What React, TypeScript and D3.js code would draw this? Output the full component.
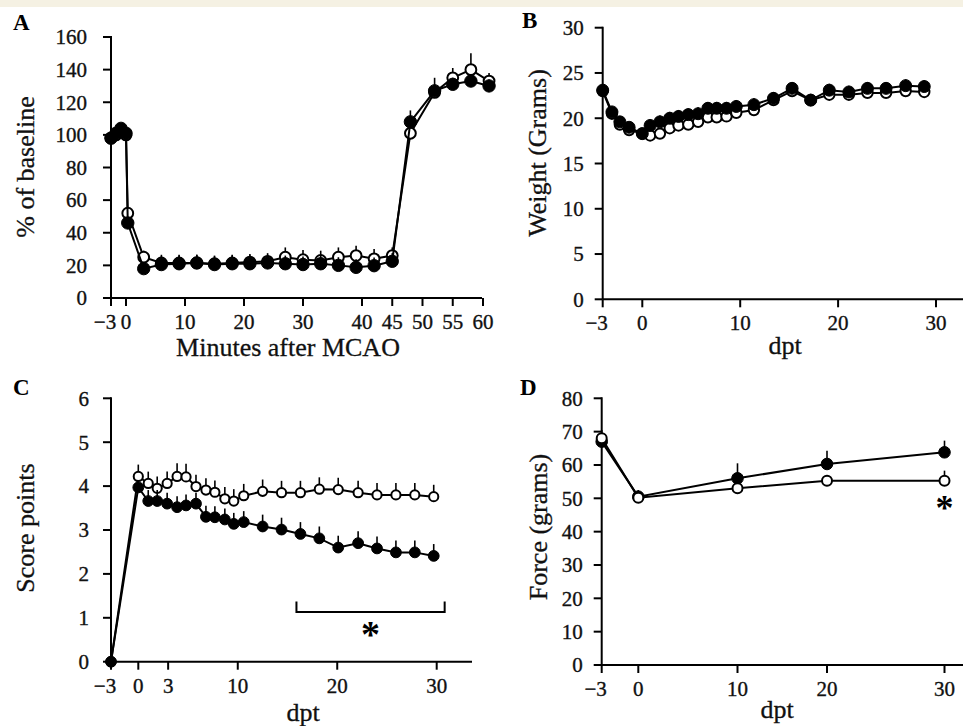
import * as d3 from "d3";

const FONT = "'Liberation Serif', 'Times New Roman', Times, serif";

// ---- Panel A: blood flow, % of baseline, minutes after MCAO
const minutesA = [-3, -2, -1, 0, 0.3, 3, 6, 9, 12, 15, 18, 21, 24, 27, 30, 33, 36, 39, 42, 45, 48, 52, 55, 58, 61];
const filledA = [98, 101, 104, 101, 46, 18, 20.5, 21, 21.5, 20.5, 21, 21, 21.5, 21, 20.5, 21, 20, 18.8, 19.8, 22.5, 108, 127, 131, 133, 130];
const openA = [98, 100, 103, 100, 52, 25, 21.5, 21.5, 21.5, 21, 21.5, 22, 22.5, 25, 23.5, 23, 25, 26, 24, 26, 101, 126, 135, 140, 133];
const errFilledA = [2, 2, 3, 2, 3, 4, 5, 5, 5, 5, 5, 5, 5, 5, 5, 5, 5, 5, 5, 5, 7, 8, 4, 4, 4];
const errOpenA = [2, 2, 2, 2, 3, 4, 5, 5, 5, 5, 5, 5, 5, 6, 6, 6, 6, 6, 6, 5, 4, 5, 6, 10, 5];
const xTicksA = [-3, 0, 10, 20, 30, 40, 45, 50, 55, 60];
const yTicksA = [0, 20, 40, 60, 80, 100, 120, 140, 160];

// ---- Panel B: weight (grams)
const dptB = [-3, -2.3, -1.7, -1, 0, 0.8, 1.8, 2.8, 3.7, 4.7, 5.7, 6.7, 7.6, 8.6, 9.6, 11.4, 13.4, 15.3, 17.2, 19.1, 21.1, 23, 24.9, 26.9, 28.8];
const filledB = [23.1, 20.7, 19.6, 19.0, 18.3, 19.2, 19.6, 20.0, 20.2, 20.4, 20.5, 21.1, 21.1, 21.1, 21.3, 21.5, 22.2, 23.3, 22.0, 23.1, 22.9, 23.3, 23.3, 23.6, 23.5];
const openB = [23.0, 20.5, 19.3, 18.7, 18.3, 18.1, 18.3, 18.9, 19.2, 19.3, 19.6, 20.1, 20.1, 20.2, 20.6, 20.9, 22.0, 23.0, 22.0, 22.6, 22.6, 22.8, 22.8, 23.0, 22.9];
const errFilledB = [0.5, 0.6, 0.6, 0.6, 0.6, 0.7, 0.7, 0.7, 0.7, 0.7, 0.7, 0.7, 0.7, 0.7, 0.7, 0.7, 0.7, 0.7, 0.7, 0.7, 0.7, 0.7, 0.7, 0.7, 0.7];
const errOpenB = [0.4, 0.4, 0.4, 0.4, 0.4, 0.4, 0.4, 0.4, 0.4, 0.4, 0.4, 0.4, 0.4, 0.4, 0.4, 0.4, 0.4, 0.4, 0.4, 0.4, 0.4, 0.4, 0.4, 0.4, 0.4];
const xTicksB = [-3, 0, 10, 20, 30];
const yTicksB = [0, 5, 10, 15, 20, 25, 30];

// ---- Panel C: neurological score
const dptC = [-3, 0, 1, 1.9, 2.9, 3.9, 4.8, 5.8, 6.8, 7.7, 8.7, 9.6, 10.6, 12.5, 14.4, 16.3, 18.2, 20.1, 22.1, 24, 25.9, 27.8, 29.7];
const filledC = [0, 3.97, 3.66, 3.66, 3.6, 3.52, 3.56, 3.6, 3.3, 3.29, 3.24, 3.14, 3.18, 3.08, 3.01, 2.91, 2.81, 2.6, 2.7, 2.58, 2.49, 2.49, 2.41];
const openC = [0, 4.22, 4.06, 3.95, 4.06, 4.22, 4.21, 3.99, 3.91, 3.86, 3.71, 3.66, 3.78, 3.88, 3.85, 3.85, 3.93, 3.92, 3.85, 3.8, 3.8, 3.8, 3.76];
const errFilledC = [0, 0.15, 0.25, 0.25, 0.25, 0.25, 0.25, 0.25, 0.25, 0.25, 0.25, 0.25, 0.25, 0.27, 0.27, 0.27, 0.27, 0.27, 0.27, 0.27, 0.27, 0.27, 0.27];
const errOpenC = [0, 0.27, 0.27, 0.27, 0.27, 0.3, 0.3, 0.27, 0.27, 0.27, 0.27, 0.27, 0.27, 0.27, 0.27, 0.27, 0.27, 0.27, 0.27, 0.27, 0.27, 0.27, 0.27];
const xTicksC = [-3, 0, 3, 10, 20, 30];
const yTicksC = [0, 1, 2, 3, 4, 5, 6];
const bracketC = { from: 15.9, to: 30.8, level: 1.13, tip: 1.37 };

// ---- Panel D: grip force (grams)
const dptD = [-3, 0, 10, 20, 30];
const filledD = [67, 50.5, 56, 60.3, 63.8];
const openD = [68, 50.2, 53, 55.3, 55.3];
const errFilledD = [3.5, 2, 4.5, 4, 3.5];
const errOpenD = [1, 1.5, 0, 0, 3];
const xTicksD = [-3, 0, 10, 20, 30];
const yTicksD = [0, 10, 20, 30, 40, 50, 60, 70, 80];

type Series = { x: number[]; y: number[]; err: number[]; filled: boolean };

type PanelProps = {
  letter: string;
  letterX: number;
  letterY: number;
  x: d3.ScaleLinear<number, number>;
  y: d3.ScaleLinear<number, number>;
  axisX0: number;
  axisX1: number;
  xTicks: number[];
  yTicks: number[];
  yLabelGap: number;
  series: Series[];
  r: number;
  xTitle: string;
  xTitleX: number;
  xTitleY: number;
  yTitle: string;
  yTitleX: number;
  yTitleY: number;
  children?: any;
};

const fmt = d3.format("");

function Panel(p: PanelProps) {
  const y0 = p.y.range()[0];
  const yTop = p.y.range()[1];
  const line = d3.line<number>();
  return (
    <g fontFamily={FONT}>
      <text x={p.letterX} y={p.letterY} fontSize={23} fontWeight="bold">{p.letter}</text>

      {/* axes */}
      <g stroke="#000" strokeWidth={2} fill="none">
        <line x1={p.axisX0} x2={p.axisX0} y1={yTop - 1} y2={y0} />
        <line x1={p.axisX0} x2={p.axisX1} y1={y0} y2={y0} />
        {p.yTicks.map(t => (
          <line key={"yt" + t} x1={p.axisX0 - 8} x2={p.axisX0} y1={p.y(t)} y2={p.y(t)} />
        ))}
        {p.xTicks.map(t => (
          <line key={"xt" + t} x1={p.x(t)} x2={p.x(t)} y1={y0} y2={y0 + 8} />
        ))}
      </g>
      <g fontSize={21} fill="#111" stroke="#111" strokeWidth={0.35}>
        {p.yTicks.map(t => (
          <text key={"yl" + t} x={p.axisX0 - p.yLabelGap} y={p.y(t)} dy="0.35em" textAnchor="end">{fmt(t)}</text>
        ))}
        {p.xTicks.map((t, i) => (
          <text key={"xl" + t} x={p.x(t) + (i === 0 ? -6 : 0)} y={y0 + 31} textAnchor="middle">{fmt(t)}</text>
        ))}
      </g>
      <g fontSize={26} fill="#111" stroke="#111" strokeWidth={0.3}>
        <text x={p.xTitleX} y={p.xTitleY} textAnchor="middle">{p.xTitle}</text>
        <text transform={`translate(${p.yTitleX},${p.yTitleY}) rotate(-90)`} textAnchor="middle" dy="0.35em">{p.yTitle}</text>
      </g>

      {/* series */}
      {p.series.map((s, si) => {
        const pts = s.x.map((xv, i) => [p.x(xv), p.y(s.y[i])] as [number, number]);
        return (
          <g key={si}>
            <g stroke="#000" strokeWidth={1.6}>
              {s.x.map((xv, i) => s.err[i] > 0 && (
                <line key={i} x1={p.x(xv)} x2={p.x(xv)} y1={p.y(s.y[i])} y2={p.y(s.y[i] + s.err[i])} />
              ))}
            </g>
            <path d={line(pts as any) || ""} fill="none" stroke="#000" strokeWidth={2} />
            {pts.map(([cx, cy], i) => (
              <circle key={i} cx={cx} cy={cy} r={s.filled ? p.r : p.r - 0.8}
                fill={s.filled ? "#000" : "#fff"} stroke="#000" strokeWidth={s.filled ? 1 : 2} />
            ))}
          </g>
        );
      })}
      {p.children}
    </g>
  );
}

export default function App() {
  const W = 963, H = 726;

  const xA = d3.scaleLinear().domain([-3, 0, 40, 60]).range([111, 126, 362, 483]);
  const yA = d3.scaleLinear().domain([0, 160]).range([298, 37]);

  const xB = d3.scaleLinear().domain([-3, 0, 30]).range([602.7, 642.3, 936]);
  const yB = d3.scaleLinear().domain([0, 30]).range([299.3, 27.7]);

  const xC = d3.scaleLinear().domain([-3, 0, 30]).range([111, 138.3, 436.7]);
  const yC = d3.scaleLinear().domain([0, 6]).range([661.7, 398.3]);

  const xD = d3.scaleLinear().domain([-3, 0, 10, 20, 30]).range([601.7, 638.3, 737.5, 827, 944.5]);
  const yD = d3.scaleLinear().domain([0, 80]).range([665, 398.3]);

  return (
    <svg width={W} height={H} viewBox={`0 0 ${W} ${H}`}
      style={{ position: "absolute", left: 0, top: 0, background: "#fff" }}>
      <rect x={0} y={0} width={W} height={H} fill="#fff" />
      <rect x={0} y={0} width={W} height={7} fill="#f5f1e3" />

      <Panel letter="A" letterX={13} letterY={30} x={xA} y={yA} axisX0={111} axisX1={482}
        xTicks={xTicksA} yTicks={yTicksA} yLabelGap={24} r={6.2}
        series={[
          { x: minutesA, y: openA, err: errOpenA, filled: false },
          { x: minutesA, y: filledA, err: errFilledA, filled: true },
        ]}
        xTitle="Minutes after MCAO" xTitleX={288} xTitleY={356}
        yTitle="% of baseline" yTitleX={25} yTitleY={167} />

      <Panel letter="B" letterX={522} letterY={28} x={xB} y={yB} axisX0={602.7} axisX1={963}
        xTicks={xTicksB} yTicks={yTicksB} yLabelGap={19} r={6}
        series={[
          { x: dptB, y: openB, err: errOpenB, filled: false },
          { x: dptB, y: filledB, err: errFilledB, filled: true },
        ]}
        xTitle="dpt" xTitleX={785} xTitleY={354}
        yTitle="Weight (Grams)" yTitleX={537} yTitleY={153} />

      <Panel letter="C" letterX={13} letterY={395} x={xC} y={yC} axisX0={111} axisX1={472}
        xTicks={xTicksC} yTicks={yTicksC} yLabelGap={22} r={5.4}
        series={[
          { x: dptC, y: openC, err: errOpenC, filled: false },
          { x: dptC, y: filledC, err: errFilledC, filled: true },
        ]}
        xTitle="dpt" xTitleX={303} xTitleY={721}
        yTitle="Score points" yTitleX={25} yTitleY={528}>
        <path
          d={`M${xC(bracketC.from)},${yC(bracketC.tip)}V${yC(bracketC.level)}H${xC(bracketC.to)}V${yC(bracketC.tip)}`}
          fill="none" stroke="#000" strokeWidth={2} />
        <text x={xC((bracketC.from + bracketC.to) / 2)} y={647} fontSize={38} fontWeight="bold" textAnchor="middle" fontFamily={FONT}>*</text>
      </Panel>

      <Panel letter="D" letterX={520} letterY={395} x={xD} y={yD} axisX0={601.7} axisX1={963}
        xTicks={xTicksD} yTicks={yTicksD} yLabelGap={19} r={5.8}
        series={[
          { x: dptD, y: filledD, err: errFilledD, filled: true },
          { x: dptD, y: openD, err: errOpenD, filled: false },
        ]}
        xTitle="dpt" xTitleX={777} xTitleY={718}
        yTitle="Force (grams)" yTitleX={538} yTitleY={527}>
        <text x={xD(30)} y={520} fontSize={36} fontWeight="bold" textAnchor="middle" fontFamily={FONT}>*</text>
      </Panel>
    </svg>
  );
}
